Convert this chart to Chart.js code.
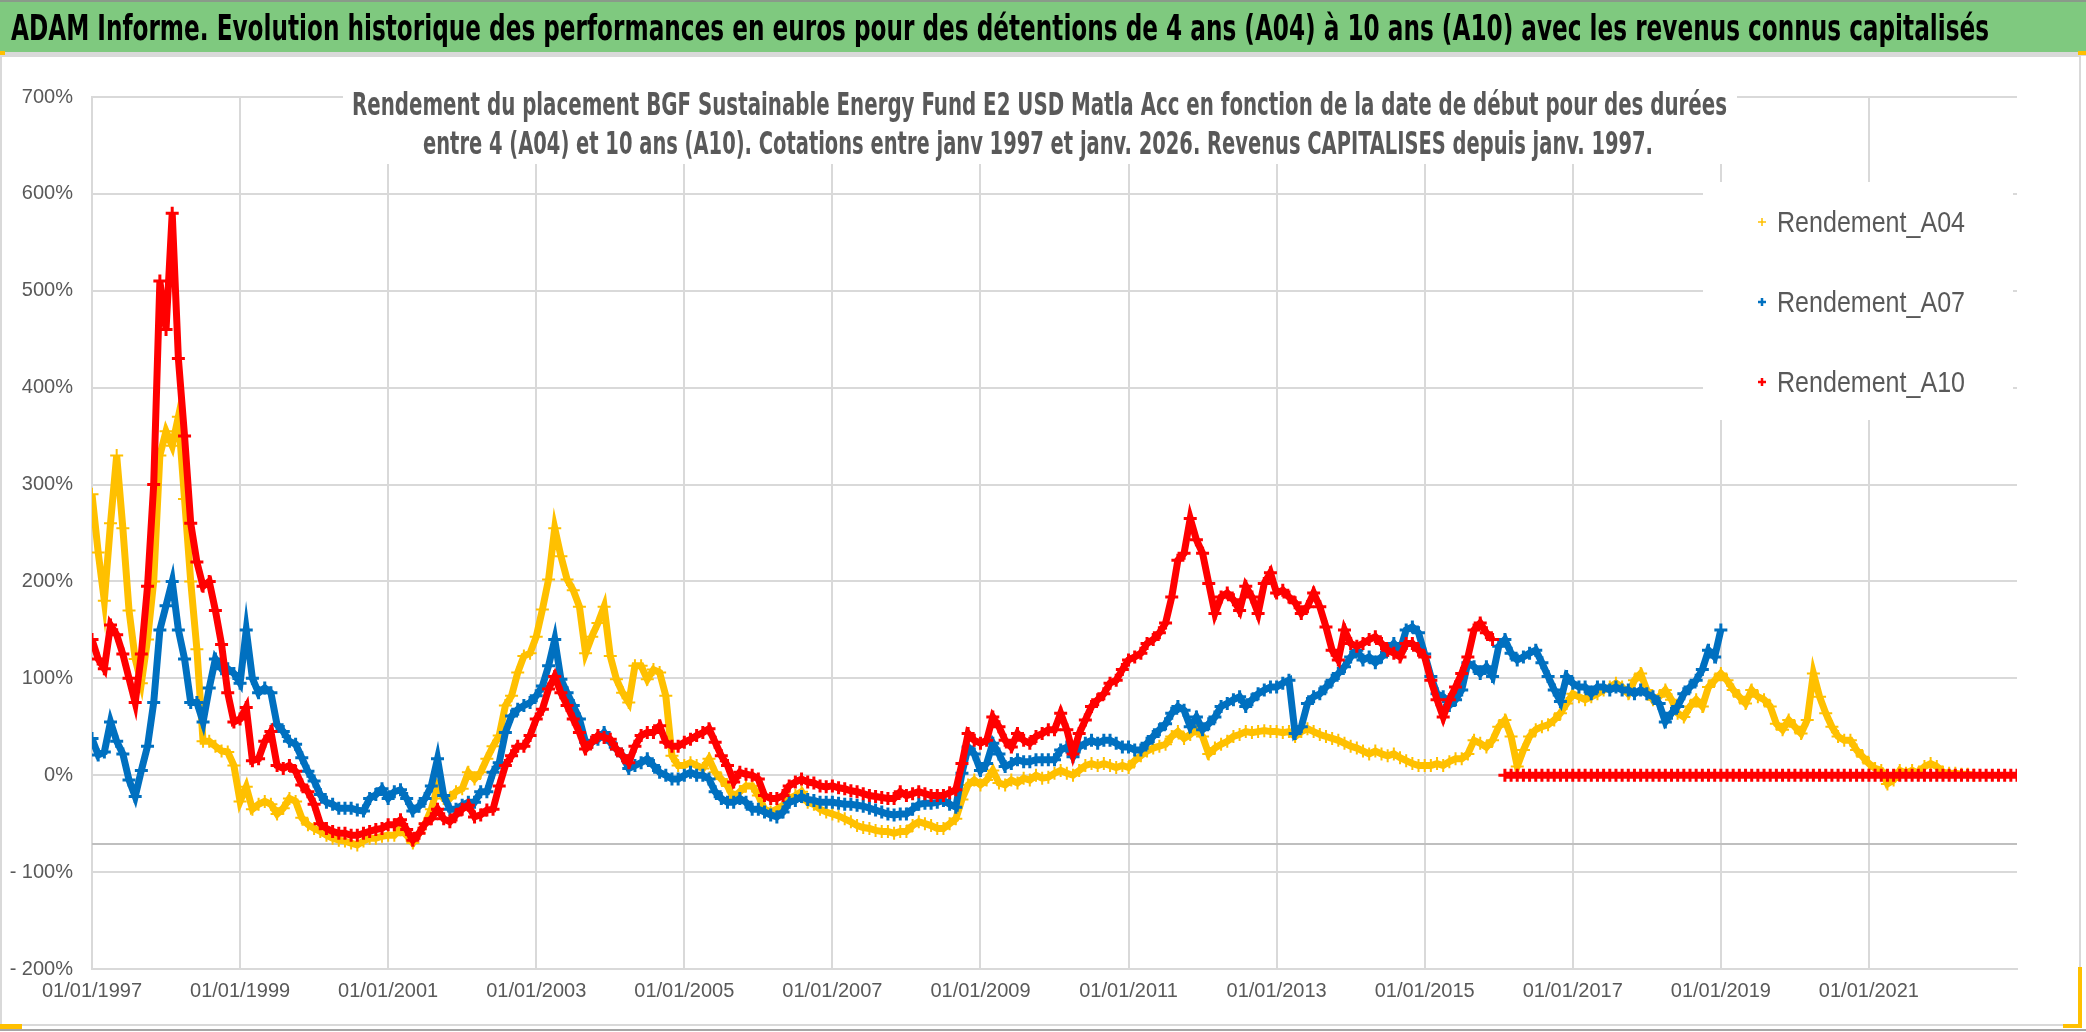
<!DOCTYPE html>
<html lang="fr">
<head>
<meta charset="utf-8">
<title>ADAM Informe - BGF Sustainable Energy Fund</title>
<script src="https://cdn.jsdelivr.net/npm/chart.js@4.4.1/dist/chart.umd.min.js"></script>
<style>
  html, body { margin: 0; padding: 0; background: #fff; overflow: hidden; }
  canvas { display: block; }
</style>
</head>
<body>
<canvas id="chart" width="2086" height="1032"></canvas>
<script>
const mainTitle =
  "ADAM Informe. Evolution historique des performances en euros pour des détentions de 4 ans (A04) à 10 ans (A10) avec les revenus connus capitalisés";
const subTitle = [
  "Rendement du placement BGF Sustainable Energy Fund E2 USD Matla Acc en fonction de la date de début pour des durées",
  "entre 4 (A04) et 10 ans (A10). Cotations entre janv 1997 et janv. 2026. Revenus CAPITALISES depuis janv. 1997.",
];
const seriesNames = ["Rendement_A04", "Rendement_A07", "Rendement_A10"];
const seriesColors = ["#ffc000", "#0070c0", "#ff0000"];

const xTickYears = [1997, 1999, 2001, 2003, 2005, 2007, 2009, 2011, 2013, 2015, 2017, 2019, 2021];
const xTickLabels = [
  "01/01/1997", "01/01/1999", "01/01/2001", "01/01/2003", "01/01/2005", "01/01/2007", "01/01/2009",
  "01/01/2011", "01/01/2013", "01/01/2015", "01/01/2017", "01/01/2019", "01/01/2021",
];
const yTickLabels = ["- 200%", "- 100%", "0%", "100%", "200%", "300%", "400%", "500%", "600%", "700%"];
const axisCrossing = -71;

// monthly values (%) starting January 1997
const startYear = 1997;
const rendementA04 = [
  290, 230, 180, 260, 330, 255, 170, 120, 95, 140, 200, 330, // 1997
  355, 340, 370, 285, 200, 130, 35, 35, 30, 25, 24, 10, // 1998
  -27, -12, -35, -30, -27, -30, -40, -34, -24, -27, -44, -51, // 1999
  -55, -58, -62, -65, -67, -68, -70, -72, -68, -65, -65, -63, // 2000
  -62, -62, -55, -62, -70, -60, -50, -35, -12, -24, -24, -17, // 2001
  -14, 3, -4, 3, 17, 30, 41, 72, 82, 106, 123, 126, // 2002
  143, 171, 202, 255, 226, 202, 191, 174, 126, 143, 157, 174, // 2003
  123, 99, 85, 75, 113, 113, 99, 109, 106, 82, 20, 10, // 2004
  10, 13, 10, 7, 17, 3, -4, -11, -24, -17, -11, -11, // 2005
  -21, -35, -38, -35, -31, -24, -21, -17, -28, -30, -35, -38, // 2006
  -40, -42, -45, -48, -52, -54, -55, -57, -58, -58, -60, -58, // 2007
  -58, -52, -48, -50, -52, -55, -55, -50, -45, -25, -10, -5, // 2008
  -10, -5, 5, -8, -10, -5, -8, -3, -5, 0, -3, -2, // 2009
  2, 5, 2, 0, 5, 10, 12, 10, 12, 10, 8, 10, // 2010
  8, 15, 20, 25, 28, 30, 32, 40, 45, 38, 42, 48, // 2011
  40, 22, 28, 32, 35, 40, 42, 45, 44, 45, 46, 45, // 2012
  45, 44, 45, 40, 45, 48, 45, 42, 40, 38, 36, 33, // 2013
  30, 28, 25, 22, 25, 22, 20, 22, 18, 15, 12, 10, // 2014
  10, 10, 12, 10, 14, 17, 17, 22, 36, 33, 29, 36, // 2015
  50, 57, 40, 9, 26, 40, 47, 50, 52, 57, 64, 74, // 2016
  84, 81, 78, 81, 84, 88, 91, 95, 91, 84, 98, 105, // 2017
  88, 78, 81, 88, 78, 64, 60, 71, 78, 71, 91, 98, // 2018
  105, 98, 88, 81, 74, 88, 81, 78, 71, 53, 47, 57, // 2019
  50, 43, 57, 105, 81, 64, 50, 40, 36, 36, 26, 19, // 2020
  12, 7, 5, -9, -5, 5, 2, 5, 2, 9, 12, 9, // 2021
  3, 2, 2, 1, 1, 0, // 2022
];
const rendementA07 = [
  38, 21, 24, 55, 35, 22, -5, -22, 5, 30, 75, 150, // 1997
  175, 200, 150, 120, 75, 75, 55, 90, 120, 110, 110, 105, // 1998
  95, 150, 100, 85, 90, 85, 52, 45, 35, 32, 18, 4, // 1999
  -6, -20, -28, -30, -34, -34, -34, -36, -37, -24, -20, -14, // 2000
  -24, -17, -15, -24, -37, -32, -24, -11, 17, -21, -35, -35, // 2001
  -31, -28, -28, -17, -17, 3, 13, 44, 61, 68, 72, 75, // 2002
  82, 92, 113, 140, 99, 85, 72, 58, 34, 34, 37, 44, // 2003
  34, 27, 20, 7, 10, 13, 17, 10, 3, 0, -4, -4, // 2004
  0, 3, 0, 0, -4, -17, -24, -28, -28, -24, -28, -35, // 2005
  -35, -38, -41, -43, -38, -28, -26, -22, -25, -26, -28, -28, // 2006
  -28, -29, -30, -30, -31, -32, -34, -36, -38, -40, -41, -40, // 2007
  -40, -35, -30, -29, -29, -28, -26, -30, -33, 2, 29, 22, // 2008
  5, 12, 33, 22, 9, 12, 16, 14, 14, 16, 16, 16, // 2009
  16, 26, 29, 19, 29, 33, 36, 33, 36, 36, 33, 29, // 2010
  29, 26, 26, 33, 40, 47, 53, 64, 71, 67, 50, 60, // 2011
  47, 53, 60, 71, 74, 78, 81, 71, 78, 84, 88, 91, // 2012
  91, 95, 98, 43, 50, 74, 81, 84, 91, 98, 105, 112, // 2013
  122, 129, 119, 122, 116, 122, 129, 136, 129, 150, 153, 147, // 2014
  125, 102, 84, 81, 72, 78, 88, 116, 112, 105, 112, 102, // 2015
  133, 140, 126, 119, 122, 126, 129, 116, 102, 88, 76, 102, // 2016
  95, 91, 91, 84, 91, 91, 88, 91, 88, 88, 84, 88, // 2017
  84, 81, 74, 55, 64, 71, 84, 91, 98, 109, 129, 122, // 2018
  150, // 2019
];
const rendementA10 = [
  140, 120, 110, 155, 145, 125, 100, 75, 125, 195, 300, 510, // 1997
  460, 580, 430, 350, 260, 220, 195, 200, 170, 135, 85, 55, // 1998
  58, 70, 15, 17, 35, 45, 10, 7, 10, 4, -10, -17, // 1999
  -30, -50, -55, -58, -60, -60, -62, -62, -60, -58, -56, -55, // 2000
  -51, -51, -46, -56, -67, -60, -50, -45, -35, -45, -48, -41, // 2001
  -35, -31, -43, -41, -36, -35, -11, 10, 20, 30, 30, 41, // 2002
  58, 68, 89, 102, 85, 72, 58, 44, 27, 34, 41, 39, // 2003
  37, 27, 20, 13, 30, 41, 44, 44, 51, 34, 30, 30, // 2004
  34, 37, 41, 44, 48, 34, 20, 10, -7, 3, 1, 0, // 2005
  -4, -21, -24, -24, -21, -11, -7, -4, -7, -8, -11, -12, // 2006
  -11, -13, -14, -16, -17, -19, -21, -22, -23, -24, -24, -17, // 2007
  -21, -19, -17, -19, -21, -21, -21, -18, -15, 12, 43, 36, // 2008
  33, 36, 60, 50, 36, 29, 43, 36, 33, 40, 43, 47, // 2009
  47, 64, 47, 22, 43, 57, 71, 78, 84, 95, 98, 109, // 2010
  119, 122, 126, 136, 140, 147, 157, 184, 222, 229, 265, 243, // 2011
  229, 198, 167, 184, 188, 181, 170, 195, 184, 167, 198, 209, // 2012
  188, 191, 184, 178, 167, 174, 188, 174, 153, 129, 119, 150, // 2013
  136, 133, 136, 140, 143, 136, 129, 126, 122, 136, 136, 129, // 2014
  122, 98, 78, 60, 78, 91, 105, 122, 150, 157, 147, 140, // 2015
  null, 0, 0, 0, 0, 0, 0, 0, 0, 0, 0, 0, // 2016
  0, 0, 0, 0, 0, 0, 0, 0, 0, 0, 0, 0, // 2017
  0, 0, 0, 0, 0, 0, 0, 0, 0, 0, 0, 0, // 2018
  0, 0, 0, 0, 0, 0, 0, 0, 0, 0, 0, 0, // 2019
  0, 0, 0, 0, 0, 0, 0, 0, 0, 0, 0, 0, // 2020
  0, 0, 0, 0, 0, 0, 0, 0, 0, 0, 0, 0, // 2021
  0, 0, 0, 0, 0, 0, 0, 0, 0, 0, 0, 0, // 2022
  0, // 2023
];

const titleFont = "'Liberation Sans Narrow', 'DejaVu Sans Condensed', 'Liberation Sans', sans-serif";
const textFont = "'Liberation Sans', Arial, sans-serif";
const gridColor = "#d9d9d9";
const labelColor = "#595959";

function toPoints(values) {
  return values.map((v, i) => ({ x: startYear + i / 12, y: v }));
}

// draw a text squeezed/stretched to a given width (Calibri-like metrics)
function fitText(ctx, text, x, y, width, font, color) {
  ctx.save();
  ctx.font = font;
  ctx.textAlign = "left";
  ctx.textBaseline = "alphabetic";
  const w = ctx.measureText(text).width;
  ctx.translate(x, y);
  ctx.scale(width / w, 1);
  ctx.fillStyle = color;
  ctx.fillText(text, 0, 0);
  ctx.restore();
}

function drawCross(ctx, x, y, r, color, lw) {
  ctx.save();
  ctx.strokeStyle = color;
  ctx.lineWidth = lw;
  ctx.beginPath();
  ctx.moveTo(x - r, y);
  ctx.lineTo(x + r, y);
  ctx.moveTo(x, y - r);
  ctx.lineTo(x, y + r);
  ctx.stroke();
  ctx.restore();
}

const framePlugin = {
  id: "frame",
  beforeDraw(chart) {
    const ctx = chart.ctx;
    const w = chart.width;
    const h = chart.height;
    ctx.save();
    ctx.fillStyle = "#ffffff";
    ctx.fillRect(0, 0, w, h);
    // green header
    ctx.fillStyle = "#7fc97f";
    ctx.fillRect(0, 0, w, 52);
    ctx.fillStyle = "#8a9a8a";
    ctx.fillRect(0, 0, w, 2);
    ctx.fillStyle = "#d9d9d9";
    ctx.fillRect(0, 52, w, 4);
    // chart frame
    ctx.strokeStyle = "#d9d9d9";
    ctx.lineWidth = 2;
    ctx.strokeRect(1, 56, 2079, 969);
    ctx.fillStyle = "#a6a6a6";
    ctx.fillRect(0, 1029, w, 2);
    // selection handles
    ctx.fillStyle = "#ffc000";
    ctx.fillRect(0, 51, 5, 4);
    ctx.fillRect(2078, 51, 8, 4);
    ctx.fillRect(0, 1024, 22, 5);
    ctx.fillRect(2078, 967, 4, 60);
    ctx.fillRect(2063, 1024, 19, 4);
    ctx.restore();
    fitText(ctx, mainTitle, 11, 40, 1978, "bold 35px " + titleFont, "#000000");
  },
  beforeDatasetsDraw(chart) {
    const ctx = chart.ctx;
    const area = chart.chartArea;
    const yScale = chart.scales.y;
    const yCross = yScale.getPixelForValue(axisCrossing);
    ctx.save();
    ctx.strokeStyle = "#bfbfbf";
    ctx.lineWidth = 2;
    ctx.beginPath();
    ctx.moveTo(area.left, yCross);
    ctx.lineTo(area.right, yCross);
    ctx.stroke();
    // title and legend boxes hide the grid
    ctx.fillStyle = "#ffffff";
    ctx.fillRect(343, 80, 1394, 84);
    ctx.fillRect(1703, 182, 310, 238);
    ctx.restore();

    fitText(ctx, subTitle[0], 352, 115, 1375, "bold 32px " + titleFont, labelColor);
    fitText(ctx, subTitle[1], 423, 154, 1230, "bold 32px " + titleFont, labelColor);

    seriesNames.forEach((name, i) => {
      const base = 232 + i * 80;
      drawCross(ctx, 1762, base - 10, 4, seriesColors[i], i === 0 ? 1.5 : 2.5);
      fitText(ctx, name, 1777, base, 188, "29px " + textFont, labelColor);
    });
  },
};

const ctx = document.getElementById("chart").getContext("2d");

function seriesDataset(index, values, crossWidth) {
  return {
    label: seriesNames[index],
    data: toPoints(values),
    borderColor: seriesColors[index],
    backgroundColor: seriesColors[index],
    showLine: true,
    borderWidth: 7,
    pointStyle: "cross",
    pointRadius: 6.5,
    pointBorderWidth: crossWidth,
    order: 3 - index,
  };
}

new Chart(ctx, {
  type: "scatter",
  data: {
    datasets: [
      seriesDataset(0, rendementA04, 2),
      seriesDataset(1, rendementA07, 3),
      seriesDataset(2, rendementA10, 3),
    ],
  },
  options: {
    responsive: false,
    animation: false,
    devicePixelRatio: 1,
    events: [],
    layout: {
      padding: { left: 0, top: 97, right: 69, bottom: 0 },
    },
    plugins: {
      legend: { display: false },
      title: { display: false },
      tooltip: { enabled: false },
    },
    scales: {
      x: {
        type: "linear",
        min: 1997,
        max: 2023,
        afterBuildTicks: (scale) => {
          scale.ticks = xTickYears.map((v) => ({ value: v }));
        },
        afterFit: (scale) => {
          scale.height = 63;
        },
        grid: { color: gridColor, lineWidth: 2, drawTicks: false },
        border: { display: true, color: gridColor, width: 2 },
        ticks: {
          autoSkip: false,
          maxRotation: 0,
          padding: 10,
          color: labelColor,
          font: { family: textFont, size: 20 },
          callback: (value) => xTickLabels[xTickYears.indexOf(value)],
        },
      },
      y: {
        type: "linear",
        min: -200,
        max: 700,
        afterFit: (scale) => {
          scale.width = 92;
        },
        grid: { color: gridColor, lineWidth: 2, drawTicks: false },
        border: { display: true, color: gridColor, width: 2 },
        ticks: {
          stepSize: 100,
          padding: 19,
          color: labelColor,
          font: { family: textFont, size: 20 },
          callback: (value, index) => yTickLabels[index],
        },
      },
    },
  },
  plugins: [framePlugin],
});
</script>
</body>
</html>
